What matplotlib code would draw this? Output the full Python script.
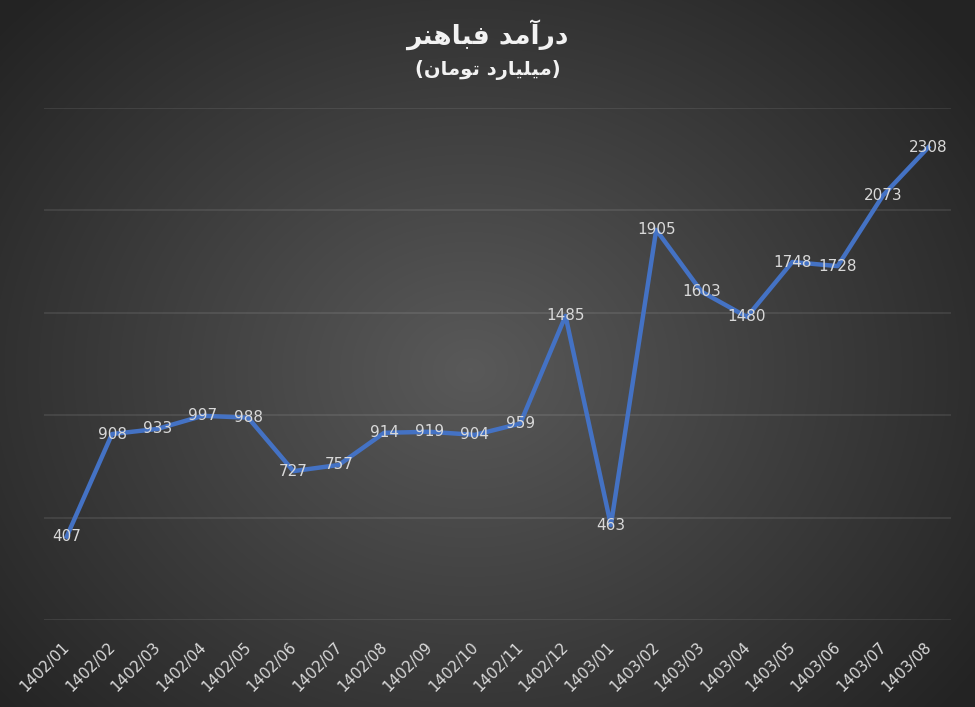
import numpy as np
import matplotlib.pyplot as plt
from matplotlib.transforms import ScaledTranslation

months = ['1402/01', '1402/02', '1402/03', '1402/04', '1402/05', '1402/06', '1402/07',
          '1402/08', '1402/09', '1402/10', '1402/11', '1402/12', '1403/01', '1403/02',
          '1403/03', '1403/04', '1403/05', '1403/06', '1403/07', '1403/08']
revenue = [407, 908, 933, 997, 988, 727, 757, 914, 919, 904, 959, 1485, 463, 1905,
           1603, 1480, 1748, 1728, 2073, 2308]
title_text = 'درآمد فباهنر'
subtitle_text = '(میلیارد تومان)'

# شکل‌های حروف عربی: (تنها، پایانی، آغازی، میانی)
FORMS = {
    'ا': ('\uFE8D', '\uFE8E', None, None),
    'آ': ('\uFE81', '\uFE82', None, None),
    'د': ('\uFEA9', '\uFEAA', None, None),
    'ر': ('\uFEAD', '\uFEAE', None, None),
    'و': ('\uFEED', '\uFEEE', None, None),
    'ب': ('\uFE8F', '\uFE90', '\uFE91', '\uFE92'),
    'ت': ('\uFE95', '\uFE96', '\uFE97', '\uFE98'),
    'ف': ('\uFED1', '\uFED2', '\uFED3', '\uFED4'),
    'ل': ('\uFEDD', '\uFEDE', '\uFEDF', '\uFEE0'),
    'م': ('\uFEE1', '\uFEE2', '\uFEE3', '\uFEE4'),
    'ن': ('\uFEE5', '\uFEE6', '\uFEE7', '\uFEE8'),
    'ه': ('\uFEE9', '\uFEEA', '\uFEEB', '\uFEEC'),
    'ی': ('\uFBFC', '\uFBFD', '\uFEF3', '\uFEF4'),
}


def shape_rtl(text):
    out = []
    for i, ch in enumerate(text):
        if ch not in FORMS:
            out.append(ch)
            continue
        prev = text[i - 1] if i > 0 else ''
        nxt = text[i + 1] if i + 1 < len(text) else ''
        join_prev = prev in FORMS and FORMS[prev][2] is not None
        join_next = nxt in FORMS and FORMS[ch][2] is not None
        iso, fin, ini, med = FORMS[ch]
        if join_prev and join_next:
            out.append(med)
        elif join_prev:
            out.append(fin)
        elif join_next:
            out.append(ini)
        else:
            out.append(iso)
    vis = ''.join(reversed(out))
    return vis.translate(str.maketrans('()', ')('))


fig = plt.figure(figsize=(9.75, 7.07), dpi=100)

# پس‌زمینه گرادیان شعاعی
bg = fig.add_axes([0, 0, 1, 1])
yy, xx = np.mgrid[0:707, 0:975]
r = np.sqrt(((xx - 470) / 620) ** 2 + ((yy - 370) / 520) ** 2)
shade = np.clip(0.35 - 0.21 * r, 0.14, 0.35)
bg.imshow(np.dstack([shade] * 3), extent=[0, 1, 0, 1], aspect='auto')
bg.axis('off')

ax = fig.add_axes([44 / 975, 1 - 620 / 707, 907 / 975, (620 - 108) / 707])
ax.set_facecolor('none')
x = np.arange(len(months))
ax.plot(x, revenue, color='#4472C4', linewidth=3.2, zorder=3)
for xi, v in zip(x, revenue):
    ax.text(xi, v, str(v), color='#D9D9D9', fontsize=11, ha='center', va='center', zorder=4)

ax.set_xlim(-0.5, len(months) - 0.5)
ax.set_ylim(0, 2500)
ax.set_yticks(range(0, 2501, 500))
ax.grid(axis='y', color='white', alpha=0.1, linewidth=1.2)
ax.set_axisbelow(True)
ax.set_yticklabels([])
ax.tick_params(axis='y', length=0)
ax.set_xticks(x)
ax.set_xticklabels(months, rotation=45, ha='right', color='#D9D9D9', fontsize=11)
ax.tick_params(axis='x', length=0, pad=14)
shift = ScaledTranslation(6 / 100, 0, fig.dpi_scale_trans)
for lbl in ax.get_xticklabels():
    lbl.set_transform(lbl.get_transform() + shift)
for s in ax.spines.values():
    s.set_visible(False)

fig.text(0.5, 1 - 35 / 707, shape_rtl(title_text), ha='center', va='center',
         fontsize=19, fontweight='bold', color='#F2F2F2')
fig.text(0.5, 1 - 70 / 707, shape_rtl(subtitle_text), ha='center', va='center',
         fontsize=14, fontweight='bold', color='#F2F2F2')

fig.savefig('out.png', dpi=100)
